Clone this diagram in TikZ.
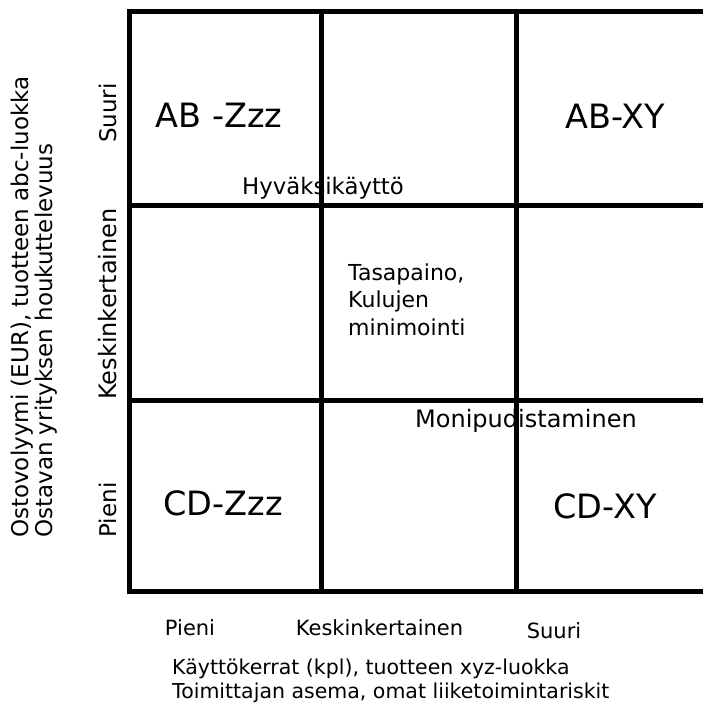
\documentclass[tikz,border=0pt]{standalone}
\usepackage{fontspec}
\setmainfont{DejaVu Sans}
\begin{document}
\begin{tikzpicture}[x=1pt,y=-1pt]
\tikzset{
  big/.style={font=\fontsize{33.5}{40}\selectfont, inner sep=0pt, anchor=base},
  small/.style={font=\fontsize{22}{27.5}\selectfont, inner sep=0pt, anchor=base west},
  sidelabel/.style={font=\fontsize{23}{27}\selectfont, inner sep=0pt, rotate=90},
  botlabel/.style={font=\fontsize{21}{25}\selectfont, inner sep=0pt, anchor=base},
  axistitle/.style={font=\fontsize{20.5}{24}\selectfont, inner sep=0pt},
  gridline/.style={line width=5pt, line cap=rect}
}
\useasboundingbox (0,0) rectangle (702,711);
% cell labels
\node[big] (abz) at (219,128) {AB -Zzz};
\node[big] (abxy) at (615,129) {AB-XY};
\node[big] (cdz) at (223,515) {CD-Zzz};
\node[big] (cdxy) at (605,518) {CD-XY};
% strategy labels
\node[small, font=\fontsize{22.8}{27}\selectfont] (hyv) at (242,195) {Hyväksikäyttö};
\node[small] (tas1) at (348,280) {Tasapaino,};
\node[small] (tas2) at (348,307.5) {Kulujen};
\node[small] (tas3) at (348,335) {minimointi};
\node[small, font=\fontsize{24}{28}\selectfont] (moni) at (415,427) {Monipudistaminen};
% left scale labels
\node[sidelabel, anchor=base] (ls) at (116,113) {Suuri};
\node[sidelabel, anchor=base, font=\fontsize{24}{28}\selectfont] (lk) at (116,304) {Keskinkertainen};
\node[sidelabel, anchor=base] (lp) at (116,510) {Pieni};
% left axis title
\node[axistitle, font=\fontsize{23}{27}\selectfont, rotate=90, anchor=base west] (ly1) at (28,538) {Ostovolyymi (EUR), tuotteen abc-luokka};
\node[axistitle, font=\fontsize{23}{27}\selectfont, rotate=90, anchor=base west] (ly2) at (52,538) {Ostavan yrityksen houkuttelevuus};
% bottom scale labels
\node[botlabel] (bp) at (190,635) {Pieni};
\node[botlabel] (bk) at (379.5,635) {Keskinkertainen};
\node[botlabel] (bs) at (554,638) {Suuri};
% bottom axis title
\node[axistitle, anchor=base west] (bx1) at (172,674) {Käyttökerrat (kpl), tuotteen xyz-luokka};
\node[axistitle, anchor=base west] (bx2) at (172,698) {Toimittajan asema, omat liiketoimintariskit};
% grid
\draw[gridline] (129.5,12) -- (702,12);
\draw[gridline] (129.5,205.5) -- (702,205.5);
\draw[gridline] (129.5,400) -- (702,400);
\draw[gridline] (129.5,591.5) -- (702,591.5);
\draw[gridline] (129.5,12) -- (129.5,591.5);
\draw[gridline] (321.5,12) -- (321.5,591.5);
\draw[gridline] (516,12) -- (516,591.5);
\end{tikzpicture}
\end{document}
